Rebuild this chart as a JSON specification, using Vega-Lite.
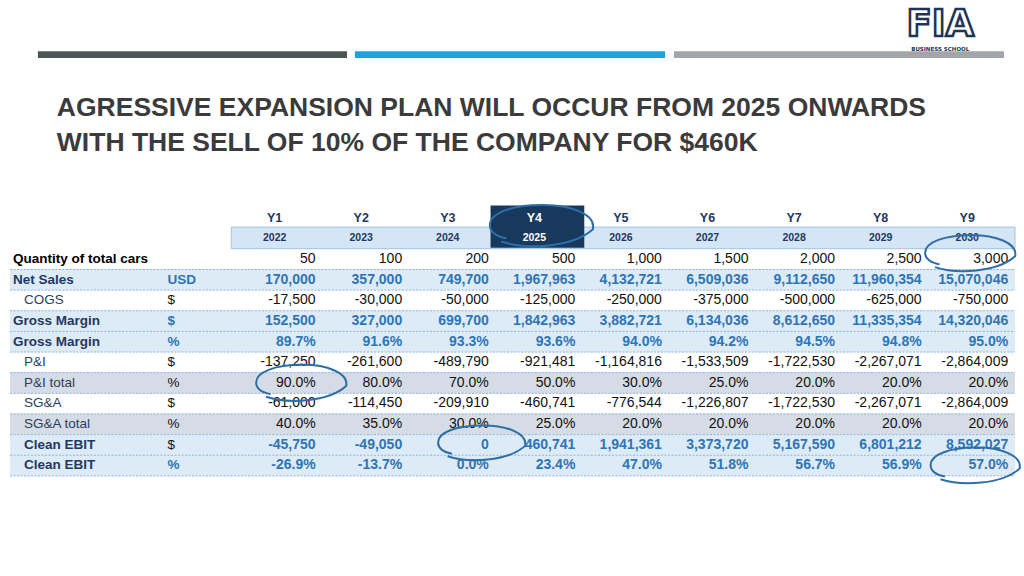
{
  "$schema": "https://vega.github.io/schema/vega-lite/v6.json",
  "width": 1024,
  "height": 576,
  "autosize": {"type": "fit", "contains": "padding"},
  "padding": 0,
  "background": "#ffffff",
  "config": {
    "view": {"stroke": null},
    "locale": {"number": {"decimal": ".", "thousands": ",", "grouping": [3], "currency": ["$", ""], "minus": "-"}}
  },
  "datasets": {
    "one": [{}],
    "years": [
      {"year": 2022, "code": "Y1"}, {"year": 2023, "code": "Y2"}, {"year": 2024, "code": "Y3"},
      {"year": 2025, "code": "Y4"}, {"year": 2026, "code": "Y5"}, {"year": 2027, "code": "Y6"},
      {"year": 2028, "code": "Y7"}, {"year": 2029, "code": "Y8"}, {"year": 2030, "code": "Y9"}
    ],
    "table": [
      {"row": 1, "label": "Quantity of total cars", "unit": "", "group": "qty", "level": 0, "kind": "amount",
       "year": [2022, 2023, 2024, 2025, 2026, 2027, 2028, 2029, 2030],
       "value": [50, 100, 200, 500, 1000, 1500, 2000, 2500, 3000]},
      {"row": 2, "label": "Net Sales", "unit": "USD", "group": "key", "level": 0, "kind": "amount",
       "year": [2022, 2023, 2024, 2025, 2026, 2027, 2028, 2029, 2030],
       "value": [170000, 357000, 749700, 1967963, 4132721, 6509036, 9112650, 11960354, 15070046]},
      {"row": 3, "label": "COGS", "unit": "$", "group": "detail", "level": 1, "kind": "amount",
       "year": [2022, 2023, 2024, 2025, 2026, 2027, 2028, 2029, 2030],
       "value": [-17500, -30000, -50000, -125000, -250000, -375000, -500000, -625000, -750000]},
      {"row": 4, "label": "Gross Margin", "unit": "$", "group": "key", "level": 0, "kind": "amount",
       "year": [2022, 2023, 2024, 2025, 2026, 2027, 2028, 2029, 2030],
       "value": [152500, 327000, 699700, 1842963, 3882721, 6134036, 8612650, 11335354, 14320046]},
      {"row": 5, "label": "Gross Margin", "unit": "%", "group": "key", "level": 0, "kind": "pct",
       "year": [2022, 2023, 2024, 2025, 2026, 2027, 2028, 2029, 2030],
       "value": [0.897, 0.916, 0.933, 0.936, 0.94, 0.942, 0.945, 0.948, 0.95]},
      {"row": 6, "label": "P&I", "unit": "$", "group": "detail", "level": 1, "kind": "amount",
       "year": [2022, 2023, 2024, 2025, 2026, 2027, 2028, 2029, 2030],
       "value": [-137250, -261600, -489790, -921481, -1164816, -1533509, -1722530, -2267071, -2864009]},
      {"row": 7, "label": "P&I total", "unit": "%", "group": "ratio", "level": 1, "kind": "pct",
       "year": [2022, 2023, 2024, 2025, 2026, 2027, 2028, 2029, 2030],
       "value": [0.9, 0.8, 0.7, 0.5, 0.3, 0.25, 0.2, 0.2, 0.2]},
      {"row": 8, "label": "SG&A", "unit": "$", "group": "detail", "level": 1, "kind": "amount",
       "year": [2022, 2023, 2024, 2025, 2026, 2027, 2028, 2029, 2030],
       "value": [-61000, -114450, -209910, -460741, -776544, -1226807, -1722530, -2267071, -2864009]},
      {"row": 9, "label": "SG&A total", "unit": "%", "group": "ratio", "level": 1, "kind": "pct",
       "year": [2022, 2023, 2024, 2025, 2026, 2027, 2028, 2029, 2030],
       "value": [0.4, 0.35, 0.3, 0.25, 0.2, 0.2, 0.2, 0.2, 0.2]},
      {"row": 10, "label": "Clean EBIT", "unit": "$", "group": "key", "level": 1, "kind": "amount",
       "year": [2022, 2023, 2024, 2025, 2026, 2027, 2028, 2029, 2030],
       "value": [-45750, -49050, 0, 460741, 1941361, 3373720, 5167590, 6801212, 8592027]},
      {"row": 11, "label": "Clean EBIT", "unit": "%", "group": "key", "level": 1, "kind": "pct",
       "year": [2022, 2023, 2024, 2025, 2026, 2027, 2028, 2029, 2030],
       "value": [-0.269, -0.137, 0, 0.234, 0.47, 0.518, 0.567, 0.569, 0.57]}
    ]
  },
  "layer": [
    {"data": {"name": "one"}, "mark": {"type": "rect", "color": "#4b5657"},
     "encoding": {
       "x": {"datum": 2018.7919, "type": "quantitative", "scale": {"domain": [2018.3544, 2030.1476], "nice": false, "zero": false}, "axis": null},
       "x2": {"datum": 2022.3622},
       "y": {"datum": -9.0714, "type": "quantitative", "scale": {"domain": [-11.3095, 16.119], "reverse": true, "nice": false, "zero": false}, "axis": null},
       "y2": {"datum": -8.7381}}},
    {"data": {"name": "one"}, "mark": {"type": "rect", "color": "#1ca4e0"},
     "encoding": {
       "x": {"datum": 2022.4543, "type": "quantitative", "scale": {"domain": [2018.3544, 2030.1476], "nice": false, "zero": false}, "axis": null},
       "x2": {"datum": 2026.0361},
       "y": {"datum": -9.0714, "type": "quantitative", "scale": {"domain": [-11.3095, 16.119], "reverse": true, "nice": false, "zero": false}, "axis": null},
       "y2": {"datum": -8.7381}}},
    {"data": {"name": "one"}, "mark": {"type": "rect", "color": "#a2a5a9"},
     "encoding": {
       "x": {"datum": 2026.1397, "type": "quantitative", "scale": {"domain": [2018.3544, 2030.1476], "nice": false, "zero": false}, "axis": null},
       "x2": {"datum": 2029.9517},
       "y": {"datum": -9.0714, "type": "quantitative", "scale": {"domain": [-11.3095, 16.119], "reverse": true, "nice": false, "zero": false}, "axis": null},
       "y2": {"datum": -8.7381}}},
    {"data": {"name": "one"},
     "mark": {"type": "text", "text": "FIA", "font": "DejaVu Sans", "fontWeight": "bold", "fontSize": 37, "letterSpacing": 3, "fill": "#ffffff", "stroke": "#1d3557", "strokeWidth": 2.5, "align": "center", "baseline": "middle"},
     "encoding": {
       "x": {"datum": 2029.2146, "type": "quantitative", "scale": {"domain": [2018.3544, 2030.1476], "nice": false, "zero": false}, "axis": null},
       "y": {"datum": -10.34, "type": "quantitative", "scale": {"domain": [-11.3095, 16.119], "reverse": true, "nice": false, "zero": false}, "axis": null}}},
    {"data": {"name": "one"},
     "mark": {"type": "text", "text": "BUSINESS SCHOOL", "font": "DejaVu Sans", "fontWeight": "bold", "fontSize": 5.5, "letterSpacing": 1.6, "color": "#1d3557", "align": "center", "baseline": "middle"},
     "encoding": {
       "x": {"datum": 2029.2146, "type": "quantitative", "scale": {"domain": [2018.3544, 2030.1476], "nice": false, "zero": false}, "axis": null},
       "y": {"datum": -9.17, "type": "quantitative", "scale": {"domain": [-11.3095, 16.119], "reverse": true, "nice": false, "zero": false}, "axis": null}}},
    {"data": {"name": "one"},
     "mark": {"type": "text", "text": ["AGRESSIVE EXPANSION PLAN WILL OCCUR FROM 2025 ONWARDS", "WITH THE SELL OF 10% OF THE COMPANY FOR $460K"], "font": "Liberation Sans", "fontWeight": "bold", "fontSize": 26.5, "lineHeight": 35, "color": "#3b3b3b", "align": "left", "baseline": "alphabetic"},
     "encoding": {
       "x": {"datum": 2019.0108, "type": "quantitative", "scale": {"domain": [2018.3544, 2030.1476], "nice": false, "zero": false}, "axis": null},
       "y": {"datum": -5.93, "type": "quantitative", "scale": {"domain": [-11.3095, 16.119], "reverse": true, "nice": false, "zero": false}, "axis": null}}},
    {"data": {"name": "table"},
     "transform": [{"filter": "datum.group === 'key' || datum.group === 'ratio'"}],
     "mark": {"type": "bar", "size": 21.2},
     "encoding": {
       "x": {"datum": 2018.4695, "type": "quantitative", "scale": {"domain": [2018.3544, 2030.1476], "nice": false, "zero": false}, "axis": null},
       "x2": {"datum": 2030.0784},
       "y": {"field": "row", "type": "quantitative", "scale": {"domain": [-11.3095, 16.119], "reverse": true, "nice": false, "zero": false}, "axis": null},
       "color": {"field": "group", "type": "nominal", "scale": {"domain": ["key", "ratio"], "range": ["#ddebf7", "#d6dce5"]}, "legend": null}}},
    {"data": {"name": "table"},
     "mark": {"type": "rule", "yOffset": 10.5, "strokeDash": [2, 1.5], "color": "#8db4e2", "strokeWidth": 1},
     "encoding": {
       "x": {"datum": 2018.4695, "type": "quantitative", "scale": {"domain": [2018.3544, 2030.1476], "nice": false, "zero": false}, "axis": null},
       "x2": {"datum": 2030.0784},
       "y": {"field": "row", "type": "quantitative", "scale": {"domain": [-11.3095, 16.119], "reverse": true, "nice": false, "zero": false}, "axis": null}}},
    {"data": {"name": "one"}, "mark": {"type": "rect", "fill": "#d4e6f6", "stroke": "#a3c3e2", "strokeWidth": 1},
     "encoding": {
       "x": {"datum": 2021.0263, "type": "quantitative", "scale": {"domain": [2018.3544, 2030.1476], "nice": false, "zero": false}, "axis": null},
       "x2": {"datum": 2030.0784},
       "y": {"datum": -0.5476, "type": "quantitative", "scale": {"domain": [-11.3095, 16.119], "reverse": true, "nice": false, "zero": false}, "axis": null},
       "y2": {"datum": 0.5}}},
    {"data": {"name": "one"}, "mark": {"type": "rect", "fill": "#18395e"},
     "encoding": {
       "x": {"datum": 2024.0206, "type": "quantitative", "scale": {"domain": [2018.3544, 2030.1476], "nice": false, "zero": false}, "axis": null},
       "x2": {"datum": 2025.1032},
       "y": {"datum": -1.5952, "type": "quantitative", "scale": {"domain": [-11.3095, 16.119], "reverse": true, "nice": false, "zero": false}, "axis": null},
       "y2": {"datum": 0.4524}}},
    {"data": {"name": "years"},
     "mark": {"type": "text", "font": "Liberation Sans", "fontWeight": "bold", "fontSize": 12.5, "align": "center", "baseline": "middle", "dx": -41},
     "encoding": {
       "x": {"field": "year", "type": "quantitative", "scale": {"domain": [2018.3544, 2030.1476], "nice": false, "zero": false}, "axis": null},
       "y": {"datum": -1, "type": "quantitative", "scale": {"domain": [-11.3095, 16.119], "reverse": true, "nice": false, "zero": false}, "axis": null},
       "text": {"field": "code", "type": "nominal"},
       "color": {"condition": {"test": "datum.year === 2025", "value": "#ffffff"}, "value": "#1f3864"}}},
    {"data": {"name": "years"},
     "mark": {"type": "text", "font": "Liberation Sans", "fontWeight": "bold", "fontSize": 10.5, "align": "center", "baseline": "middle", "dx": -41},
     "encoding": {
       "x": {"field": "year", "type": "quantitative", "scale": {"domain": [2018.3544, 2030.1476], "nice": false, "zero": false}, "axis": null},
       "y": {"datum": 0, "type": "quantitative", "scale": {"domain": [-11.3095, 16.119], "reverse": true, "nice": false, "zero": false}, "axis": null},
       "text": {"field": "year", "type": "ordinal"},
       "color": {"condition": {"test": "datum.year === 2025", "value": "#ffffff"}, "value": "#1f3864"}}},
    {"data": {"name": "table"},
     "transform": [{"filter": "datum.level === 0"}],
     "mark": {"type": "text", "font": "Liberation Sans", "fontWeight": "bold", "fontSize": 13.5, "align": "left", "baseline": "middle"},
     "encoding": {
       "x": {"datum": 2018.504, "type": "quantitative", "scale": {"domain": [2018.3544, 2030.1476], "nice": false, "zero": false}, "axis": null},
       "y": {"field": "row", "type": "quantitative", "scale": {"domain": [-11.3095, 16.119], "reverse": true, "nice": false, "zero": false}, "axis": null},
       "text": {"field": "label", "type": "nominal"},
       "color": {"condition": {"test": "datum.group === 'qty'", "value": "#000000"}, "value": "#1f3864"}}},
    {"data": {"name": "table"},
     "transform": [{"filter": "datum.level === 1 && datum.group === 'key'"}],
     "mark": {"type": "text", "font": "Liberation Sans", "fontWeight": "bold", "fontSize": 13.5, "align": "left", "baseline": "middle", "color": "#1f3864"},
     "encoding": {
       "x": {"datum": 2018.6307, "type": "quantitative", "scale": {"domain": [2018.3544, 2030.1476], "nice": false, "zero": false}, "axis": null},
       "y": {"field": "row", "type": "quantitative", "scale": {"domain": [-11.3095, 16.119], "reverse": true, "nice": false, "zero": false}, "axis": null},
       "text": {"field": "label", "type": "nominal"}}},
    {"data": {"name": "table"},
     "transform": [{"filter": "datum.level === 1 && datum.group !== 'key'"}],
     "mark": {"type": "text", "font": "Liberation Sans", "fontSize": 13.5, "align": "left", "baseline": "middle", "color": "#2a3f5f"},
     "encoding": {
       "x": {"datum": 2018.6307, "type": "quantitative", "scale": {"domain": [2018.3544, 2030.1476], "nice": false, "zero": false}, "axis": null},
       "y": {"field": "row", "type": "quantitative", "scale": {"domain": [-11.3095, 16.119], "reverse": true, "nice": false, "zero": false}, "axis": null},
       "text": {"field": "label", "type": "nominal"}}},
    {"data": {"name": "table"},
     "transform": [{"filter": "datum.group === 'key' && !(datum.label === 'Clean EBIT' && datum.unit === '$')"}],
     "mark": {"type": "text", "font": "Liberation Sans", "fontWeight": "bold", "fontSize": 13.5, "align": "left", "baseline": "middle", "color": "#2e75b6"},
     "encoding": {
       "x": {"datum": 2020.2892, "type": "quantitative", "scale": {"domain": [2018.3544, 2030.1476], "nice": false, "zero": false}, "axis": null},
       "y": {"field": "row", "type": "quantitative", "scale": {"domain": [-11.3095, 16.119], "reverse": true, "nice": false, "zero": false}, "axis": null},
       "text": {"field": "unit", "type": "nominal"}}},
    {"data": {"name": "table"},
     "transform": [{"filter": "datum.group !== 'key' || (datum.label === 'Clean EBIT' && datum.unit === '$')"}],
     "mark": {"type": "text", "font": "Liberation Sans", "fontSize": 13.5, "align": "left", "baseline": "middle", "color": "#111111"},
     "encoding": {
       "x": {"datum": 2020.2892, "type": "quantitative", "scale": {"domain": [2018.3544, 2030.1476], "nice": false, "zero": false}, "axis": null},
       "y": {"field": "row", "type": "quantitative", "scale": {"domain": [-11.3095, 16.119], "reverse": true, "nice": false, "zero": false}, "axis": null},
       "text": {"field": "unit", "type": "nominal"}}},
    {"data": {"name": "table"},
     "transform": [{"filter": "datum.group === 'key' && datum.kind === 'amount'"}, {"flatten": ["year", "value"]}],
     "mark": {"type": "text", "font": "Liberation Sans", "fontWeight": "bold", "fontSize": 14, "align": "right", "baseline": "middle", "color": "#2e75b6"},
     "encoding": {
       "x": {"field": "year", "type": "quantitative", "scale": {"domain": [2018.3544, 2030.1476], "nice": false, "zero": false}, "axis": null},
       "y": {"field": "row", "type": "quantitative", "scale": {"domain": [-11.3095, 16.119], "reverse": true, "nice": false, "zero": false}, "axis": null},
       "text": {"field": "value", "type": "quantitative", "format": ",d"}}},
    {"data": {"name": "table"},
     "transform": [{"filter": "datum.group === 'key' && datum.kind === 'pct'"}, {"flatten": ["year", "value"]}],
     "mark": {"type": "text", "font": "Liberation Sans", "fontWeight": "bold", "fontSize": 14, "align": "right", "baseline": "middle", "color": "#2e75b6"},
     "encoding": {
       "x": {"field": "year", "type": "quantitative", "scale": {"domain": [2018.3544, 2030.1476], "nice": false, "zero": false}, "axis": null},
       "y": {"field": "row", "type": "quantitative", "scale": {"domain": [-11.3095, 16.119], "reverse": true, "nice": false, "zero": false}, "axis": null},
       "text": {"field": "value", "type": "quantitative", "format": ".1%"}}},
    {"data": {"name": "table"},
     "transform": [{"filter": "datum.group !== 'key' && datum.kind === 'amount'"}, {"flatten": ["year", "value"]}],
     "mark": {"type": "text", "font": "Liberation Sans", "fontSize": 14, "align": "right", "baseline": "middle", "color": "#111111"},
     "encoding": {
       "x": {"field": "year", "type": "quantitative", "scale": {"domain": [2018.3544, 2030.1476], "nice": false, "zero": false}, "axis": null},
       "y": {"field": "row", "type": "quantitative", "scale": {"domain": [-11.3095, 16.119], "reverse": true, "nice": false, "zero": false}, "axis": null},
       "text": {"field": "value", "type": "quantitative", "format": ",d"}}},
    {"data": {"name": "table"},
     "transform": [{"filter": "datum.group !== 'key' && datum.kind === 'pct'"}, {"flatten": ["year", "value"]}],
     "mark": {"type": "text", "font": "Liberation Sans", "fontSize": 14, "align": "right", "baseline": "middle", "color": "#111111"},
     "encoding": {
       "x": {"field": "year", "type": "quantitative", "scale": {"domain": [2018.3544, 2030.1476], "nice": false, "zero": false}, "axis": null},
       "y": {"field": "row", "type": "quantitative", "scale": {"domain": [-11.3095, 16.119], "reverse": true, "nice": false, "zero": false}, "axis": null},
       "text": {"field": "value", "type": "quantitative", "format": ".1%"}}},
    {"data": {"name": "one"},
     "mark": {"type": "point", "filled": false, "color": "#2f6ea5", "strokeWidth": 2, "opacity": 1, "size": 10609,
              "shape": "M -0.78 0.3 C -0.3 0.46 0.6 0.42 1 0.06 C 1.06 -0.24 0.55 -0.42 0 -0.41 C -0.55 -0.41 -1 -0.26 -1 -0.02 C -1 0.12 -0.88 0.2 -0.68 0.24"},
     "encoding": {
       "x": {"datum": 2024.608, "type": "quantitative", "scale": {"domain": [2018.3544, 2030.1476], "nice": false, "zero": false}, "axis": null},
       "y": {"datum": -0.595, "type": "quantitative", "scale": {"domain": [-11.3095, 16.119], "reverse": true, "nice": false, "zero": false}, "axis": null}}},
    {"data": {"name": "one"},
     "mark": {"type": "point", "filled": false, "color": "#2f6ea5", "strokeWidth": 2, "opacity": 1, "size": 8100,
              "shape": "M -0.78 0.3 C -0.3 0.46 0.6 0.42 1 0.06 C 1.06 -0.24 0.55 -0.42 0 -0.41 C -0.55 -0.41 -1 -0.26 -1 -0.02 C -1 0.12 -0.88 0.2 -0.68 0.24"},
     "encoding": {
       "x": {"datum": 2029.56, "type": "quantitative", "scale": {"domain": [2018.3544, 2030.1476], "nice": false, "zero": false}, "axis": null},
       "y": {"datum": 0.738, "type": "quantitative", "scale": {"domain": [-11.3095, 16.119], "reverse": true, "nice": false, "zero": false}, "axis": null}}},
    {"data": {"name": "one"},
     "mark": {"type": "point", "filled": false, "color": "#2f6ea5", "strokeWidth": 2, "opacity": 1, "size": 8100,
              "shape": "M -0.78 0.3 C -0.3 0.46 0.6 0.42 1 0.06 C 1.06 -0.24 0.55 -0.42 0 -0.41 C -0.55 -0.41 -1 -0.26 -1 -0.02 C -1 0.12 -0.88 0.2 -0.68 0.24"},
     "encoding": {
       "x": {"datum": 2021.833, "type": "quantitative", "scale": {"domain": [2018.3544, 2030.1476], "nice": false, "zero": false}, "axis": null},
       "y": {"datum": 7.024, "type": "quantitative", "scale": {"domain": [-11.3095, 16.119], "reverse": true, "nice": false, "zero": false}, "axis": null}}},
    {"data": {"name": "one"},
     "mark": {"type": "point", "filled": false, "color": "#2f6ea5", "strokeWidth": 2, "opacity": 1, "size": 7569,
              "shape": "M -0.78 0.3 C -0.3 0.46 0.6 0.42 1 0.06 C 1.06 -0.24 0.55 -0.42 0 -0.41 C -0.55 -0.41 -1 -0.26 -1 -0.02 C -1 0.12 -0.88 0.2 -0.68 0.24"},
     "encoding": {
       "x": {"datum": 2023.917, "type": "quantitative", "scale": {"domain": [2018.3544, 2030.1476], "nice": false, "zero": false}, "axis": null},
       "y": {"datum": 9.929, "type": "quantitative", "scale": {"domain": [-11.3095, 16.119], "reverse": true, "nice": false, "zero": false}, "axis": null}}},
    {"data": {"name": "one"},
     "mark": {"type": "point", "filled": false, "color": "#2f6ea5", "strokeWidth": 2, "opacity": 1, "size": 7921,
              "shape": "M -0.78 0.3 C -0.3 0.46 0.6 0.42 1 0.06 C 1.06 -0.24 0.55 -0.42 0 -0.41 C -0.55 -0.41 -1 -0.26 -1 -0.02 C -1 0.12 -0.88 0.2 -0.68 0.24"},
     "encoding": {
       "x": {"datum": 2029.618, "type": "quantitative", "scale": {"domain": [2018.3544, 2030.1476], "nice": false, "zero": false}, "axis": null},
       "y": {"datum": 11.024, "type": "quantitative", "scale": {"domain": [-11.3095, 16.119], "reverse": true, "nice": false, "zero": false}, "axis": null}}}
  ]
}
